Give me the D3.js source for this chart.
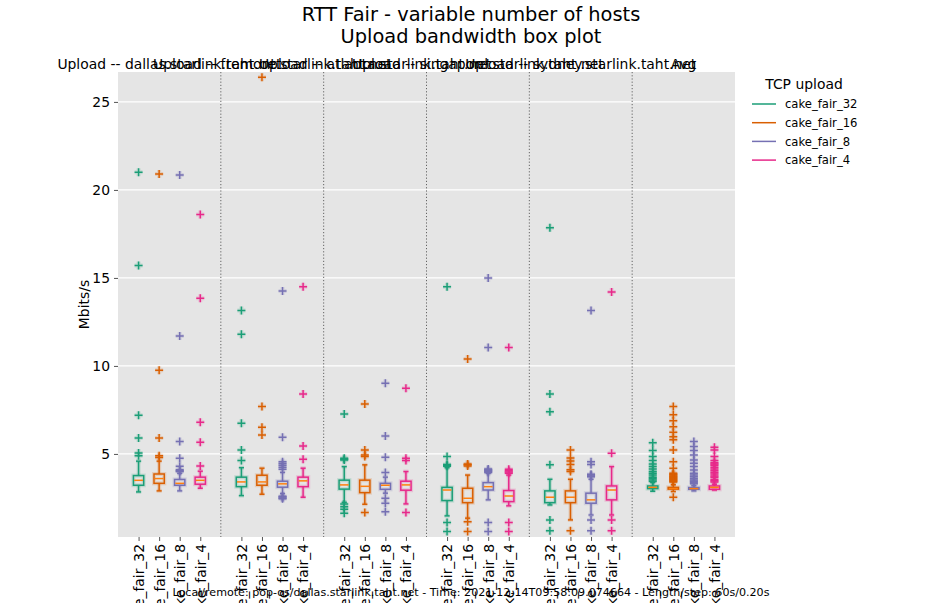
<!DOCTYPE html>
<html>
<head>
<meta charset="utf-8">
<script src="https://cdn.jsdelivr.net/npm/d3@7"></script>
<style>
  body { margin: 0; background: #fff; }
  text { font-family: "DejaVu Sans", sans-serif; fill: #000; }
</style>
</head>
<body>
<div id="chart"></div>
<script>
// groups (one per host + average)
const hosts = [
  "Upload -- dallas.starlink.taht.net",
  "Upload -- fremont.starlink.taht.net",
  "Upload -- atlanta.starlink.taht.net",
  "Upload -- singapore.starlink.taht.net",
  "Upload -- sydney.starlink.taht.net",
  "Avg"
];
const series_names = ["cake_fair_32", "cake_fair_16", "cake_fair_8", "cake_fair_4"];
const series_colors = ["#1b9e77", "#d95f02", "#7570b3", "#e7298a"];
const y_ticks = [5, 10, 15, 20, 25];

// box stats per host: [whisker_lo, q1, median, q3, whisker_hi, fliers]
const fair_32 = [
  [2.84, 3.22, 3.5, 3.77, 4.59, [21.0, 15.7, 7.2, 5.9, 5.05, 4.9]],
  [2.63, 3.14, 3.41, 3.68, 4.22, [13.15, 11.8, 6.74, 5.23, 4.62]],
  [2.25, 3.0, 3.24, 3.51, 4.28, [7.27, 4.75, 4.7, 4.66, 2.15, 2.0, 1.86, 1.63]],
  [1.48, 2.35, 2.95, 3.1, 4.22, [14.5, 4.85, 4.4, 4.35, 4.3, 1.1, 0.59]],
  [2.1, 2.23, 2.54, 2.9, 3.56, [17.85, 8.4, 7.4, 4.38, 1.25, 0.64]],
  [2.88, 3.03, 3.1, 3.18, 3.38, [5.64, 5.19, 4.85, 4.62, 4.43, 4.28, 4.15, 4.0, 3.9, 3.8, 3.68, 3.6, 3.52, 3.43]]
];
const fair_16 = [
  [2.9, 3.33, 3.6, 3.86, 4.59, [20.9, 9.75, 5.9, 4.9, 4.8]],
  [2.71, 3.22, 3.41, 3.79, 4.19, [26.4, 7.69, 6.52, 6.08]],
  [2.14, 2.8, 3.16, 3.51, 4.38, [7.84, 5.23, 4.94, 4.85, 1.67]],
  [1.35, 2.23, 2.48, 3.05, 3.8, [10.4, 4.43, 4.38, 4.32, 1.15, 0.59]],
  [1.25, 2.23, 2.54, 2.9, 3.56, [5.23, 4.77, 4.6, 4.4, 4.1, 4.0, 0.64]],
  [2.86, 3.0, 3.03, 3.1, 3.25, [7.69, 7.22, 6.89, 6.55, 6.23, 5.98, 5.8, 5.23, 4.56, 4.19, 3.9, 3.85, 3.8, 3.75, 3.71, 3.65, 3.6, 3.55, 3.5, 3.45, 3.4, 2.54]]
];
const fair_8 = [
  [2.9, 3.22, 3.33, 3.55, 3.9, [20.85, 11.7, 5.7, 4.75, 4.3, 4.1, 4.05, 4.0]],
  [2.75, 3.11, 3.3, 3.45, 3.95, [14.25, 5.95, 4.56, 4.45, 4.35, 4.25, 4.13, 2.6, 2.55, 2.5, 2.45]],
  [2.77, 2.99, 3.22, 3.33, 3.68, [9.02, 6.02, 4.81, 3.94, 2.48, 2.2, 1.72]],
  [2.39, 2.95, 3.14, 3.37, 3.9, [15.0, 11.05, 4.15, 4.1, 4.05, 4.0, 3.95, 1.1, 0.59]],
  [1.53, 2.2, 2.39, 2.77, 3.56, [13.15, 4.56, 4.4, 3.85, 3.8, 3.75, 3.7, 1.25, 0.64]],
  [2.9, 2.99, 3.03, 3.09, 3.2, [5.7, 5.42, 5.19, 4.94, 4.66, 4.47, 4.28, 4.09, 3.9, 3.8, 3.71, 3.6, 3.52, 3.45, 3.37, 3.3]]
];
const fair_4 = [
  [3.05, 3.28, 3.5, 3.68, 4.02, [18.6, 13.85, 6.8, 5.67, 4.32]],
  [2.54, 3.14, 3.47, 3.68, 4.19, [14.5, 8.4, 5.45, 4.7]],
  [2.16, 2.94, 3.24, 3.45, 4.0, [8.73, 4.75, 4.62, 1.67]],
  [2.05, 2.29, 2.61, 2.92, 3.8, [11.05, 4.13, 4.05, 3.98, 3.9, 1.1, 0.59]],
  [1.53, 2.39, 2.95, 3.18, 4.28, [14.2, 5.04, 1.25, 0.64]],
  [2.95, 2.99, 3.1, 3.18, 3.28, [5.38, 5.23, 4.85, 4.62, 4.5, 4.43, 4.35, 4.24, 4.15, 4.05, 3.95, 3.86, 3.75, 3.68, 3.55, 3.48, 3.4]]
];
const all_series = [fair_32, fair_16, fair_8, fair_4];

const footer_text = "Local/remote: pop-os/dallas.starlink.taht.net - Time: 2021-12-14T09:58:09.074664 - Length/step: 60s/0.20s";

const width = 943, height = 603;
const plot = { left: 118, right: 735, top: 72, bottom: 537 };

let svg = d3.select("#chart").append("svg")
  .attr("width", width)
  .attr("height", height);

let x = d3.scaleLinear().domain([0, 30]).range([plot.left, plot.right]);
let y = d3.scaleLinear().domain([0.28, 26.7]).range([plot.bottom, plot.top]);

// background
svg.append("rect")
  .attr("x", plot.left).attr("y", plot.top)
  .attr("width", plot.right - plot.left)
  .attr("height", plot.bottom - plot.top)
  .attr("fill", "#e5e5e5");

// grid
svg.append("g").selectAll("line").data(y_ticks).enter()
  .append("line")
  .attr("x1", plot.left).attr("x2", plot.right)
  .attr("y1", (d) => y(d)).attr("y2", (d) => y(d))
  .attr("stroke", "#fff").attr("stroke-width", 1.2);

// group separators
svg.append("g").selectAll("line").data(d3.range(1, hosts.length)).enter()
  .append("line")
  .attr("x1", (d) => x(d * 5)).attr("x2", (d) => x(d * 5))
  .attr("y1", plot.top).attr("y2", plot.bottom)
  .attr("stroke", "#555").attr("stroke-width", 0.9)
  .attr("stroke-dasharray", "1.2,2");

// y axis
let y_axis = svg.append("g")
  .attr("transform", "translate(" + plot.left + ",0)")
  .call(d3.axisLeft(y).tickValues(y_ticks).tickSize(4).tickPadding(4));
y_axis.select(".domain").remove();
y_axis.selectAll("line").attr("stroke", "#555");
y_axis.selectAll("text")
  .style("font-family", "DejaVu Sans").style("font-size", "13.9px").attr("fill", "#000");

// x tick labels
let positions = [];
hosts.forEach((h, g) => {
  series_names.forEach((s, i) => positions.push({ pos: g * 5 + i + 1, name: s }));
});
let x_axis = svg.append("g")
  .attr("transform", "translate(0," + plot.bottom + ")")
  .call(d3.axisBottom(x).tickValues(positions.map((p) => p.pos))
    .tickFormat((d, i) => positions[i].name).tickSize(4).tickPadding(3));
x_axis.select(".domain").remove();
x_axis.selectAll("line").attr("stroke", "#555");
x_axis.selectAll("text")
  .style("font-family", "DejaVu Sans").style("font-size", "13.9px").attr("fill", "#000")
  .attr("transform", "rotate(-90)")
  .attr("text-anchor", "end")
  .attr("x", -7).attr("y", 0).attr("dy", "0.35em");

// boxes
const box_w = 0.5, cap_w = 0.25;
all_series.forEach((rows, si) => {
  let color = series_colors[si];
  let g_series = svg.append("g");
  rows.forEach((r, g) => {
    let p = g * 5 + si + 1;
    let [lo, q1, med, q3, hi, fliers] = r;
    let gb = g_series.append("g");
    let segs = [
      [p, q1, p, lo], [p, q3, p, hi],
      [p - cap_w / 2, lo, p + cap_w / 2, lo],
      [p - cap_w / 2, hi, p + cap_w / 2, hi]
    ];
    // soft halo first, then the mark itself
    [{ w: 4, o: 0.18 }, { w: 1.5, o: 1 }].forEach((st) => {
      gb.append("g").selectAll("line").data(segs).enter()
        .append("line")
        .attr("x1", (d) => x(d[0])).attr("y1", (d) => y(d[1]))
        .attr("x2", (d) => x(d[2])).attr("y2", (d) => y(d[3]))
        .attr("stroke", color).attr("stroke-width", st.w).attr("stroke-opacity", st.o);
      gb.append("rect")
        .attr("x", x(p - box_w / 2)).attr("y", y(q3))
        .attr("width", x(p + box_w / 2) - x(p - box_w / 2))
        .attr("height", y(q1) - y(q3))
        .attr("fill", "none").attr("stroke", color)
        .attr("stroke-width", st.w).attr("stroke-opacity", st.o);
      let s = 4;
      gb.append("g").selectAll("path").data(fliers).enter()
        .append("path")
        .attr("d", (d) => "M" + (x(p) - s) + "," + y(d) + "h" + (2 * s) +
          "M" + x(p) + "," + (y(d) - s) + "v" + (2 * s))
        .attr("stroke", color).attr("stroke-width", st.w).attr("stroke-opacity", st.o)
        .attr("fill", "none");
    });
    gb.append("line")
      .attr("x1", x(p - box_w / 2) + 0.75).attr("x2", x(p + box_w / 2) - 0.75)
      .attr("y1", y(med)).attr("y2", y(med))
      .attr("stroke", "#ff7f0e").attr("stroke-width", 1.5);
  });
});

// group titles
svg.append("g").selectAll("text").data(hosts).enter()
  .append("text")
  .attr("x", (d, i) => x(i * 5 + 2.5))
  .attr("y", 69)
  .attr("text-anchor", "middle")
  .style("font-size", "13.9px")
  .text((d) => d);

// title
svg.append("text")
  .attr("x", 471).attr("y", 21)
  .attr("text-anchor", "middle").style("font-size", "19.4px")
  .text("RTT Fair - variable number of hosts");
svg.append("text")
  .attr("x", 471).attr("y", 43)
  .attr("text-anchor", "middle").style("font-size", "19.4px")
  .text("Upload bandwidth box plot");

// y label
svg.append("text")
  .attr("transform", "translate(89," + ((plot.top + plot.bottom) / 2) + ") rotate(-90)")
  .attr("text-anchor", "middle").style("font-size", "13.9px")
  .text("Mbits/s");

// legend
let legend = svg.append("g").attr("transform", "translate(752,0)");
legend.append("text")
  .attr("x", 52).attr("y", 89)
  .attr("text-anchor", "middle").style("font-size", "13.9px")
  .text("TCP upload");
series_names.forEach((s, i) => {
  let ly = 104 + i * 18.7;
  legend.append("line")
    .attr("x1", 0).attr("x2", 24).attr("y1", ly).attr("y2", ly)
    .attr("stroke", series_colors[i]).attr("stroke-width", 1.5);
  legend.append("text")
    .attr("x", 33).attr("y", ly + 4.2)
    .style("font-size", "11.6px")
    .text(s);
});

// footer
svg.append("text")
  .attr("x", 471).attr("y", 596)
  .attr("text-anchor", "middle").style("font-size", "11.1px")
  .text(footer_text);
</script>
</body>
</html>
